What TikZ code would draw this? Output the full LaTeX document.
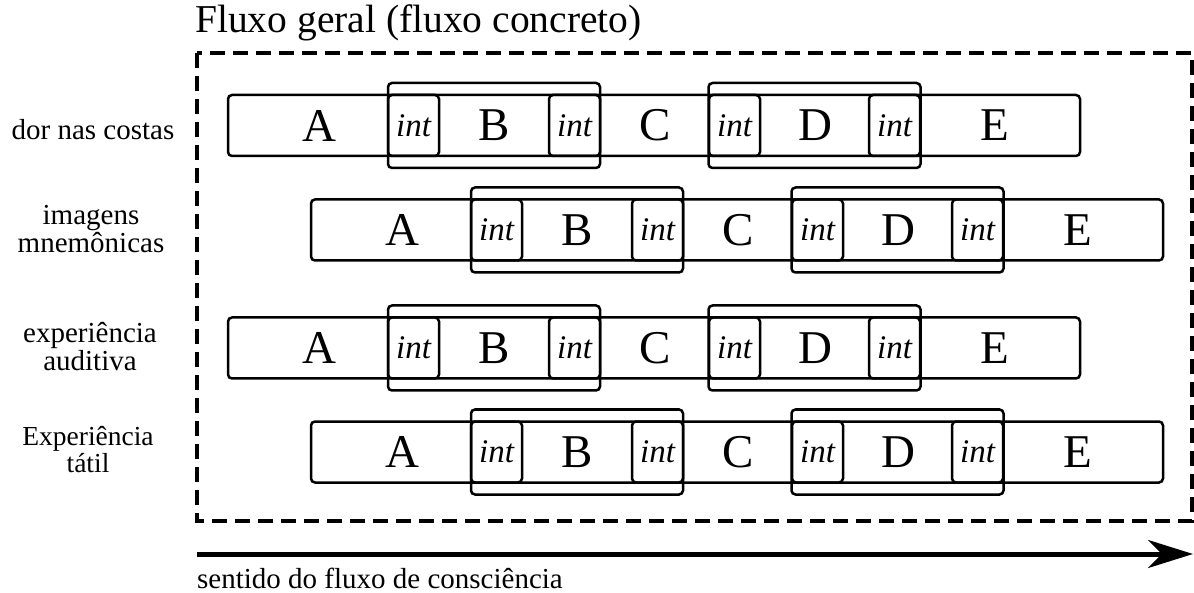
\documentclass[tikz,border=0pt]{standalone}
\usepackage{fontspec}
\setmainfont{Liberation Serif}
\usetikzlibrary{arrows.meta}

\begin{document}
\begin{tikzpicture}[x=1pt, y=-1pt,
  flowbox/.style={draw, line width=2.5pt, rounded corners=4pt, inner sep=0pt},
  longbox/.style={flowbox, minimum width=852pt, minimum height=61pt},
  tallbox/.style={flowbox, minimum width=212pt, minimum height=85pt},
  intbox/.style={flowbox, minimum width=51pt, minimum height=61pt, font=\fontsize{33}{33}\selectfont\itshape},
  letter/.style={font=\fontsize{47}{47}\selectfont},
  rowlabel/.style={align=center, inner sep=0pt, font=\fontsize{29}{28}\selectfont}]
\useasboundingbox (0,0) rectangle (1194,593);

\node[anchor=base west, inner sep=0pt, font=\fontsize{39.5}{39.5}\selectfont] (title) at (195,33) {Fluxo geral (fluxo concreto)};
\draw[line width=4pt, dash pattern=on 15pt off 8pt] (197,53) rectangle (1192,521);

% one row per experience, every second one shifted right
\foreach \r/\ry/\dx in {1/125.5/0, 2/230/83, 3/348/0, 4/452/83} {
  \node[longbox] (flow\r) at (654+\dx,\ry) {};
  \node[tallbox] (tallB\r) at (494+\dx,\ry) {};
  \node[tallbox] (tallD\r) at (814.5+\dx,\ry) {};
  \foreach \i/\ix in {1/413.5, 2/574.5, 3/734.5, 4/894.5}
    \node[intbox] (int\r\i) at (\ix+\dx,\ry) {int};
  \foreach \l/\lx in {A/319, B/494, C/655, D/815, E/995}
    \node[letter] (let\r\l) at (\lx+\dx,\ry) {\l};
}

\node[rowlabel] (pain) at (93,130) {dor nas costas};
\node[rowlabel] (images) at (91,229) {imagens\\mnemônicas};
\node[rowlabel] (hearing) at (90,347) {experiência\\auditiva};
\node[rowlabel, font=\fontsize{27.5}{26.5}\selectfont] (touch) at (88,449.5) {Experiência\\tátil};

\coordinate (flowstart) at (197,554);
\coordinate (flowend) at (1193,554);
\draw[line width=5pt, -{Stealth[length=45pt, width=28pt, inset=14pt]}] (flowstart) -- (flowend);
\node[anchor=base west, inner sep=0pt, font=\fontsize{29}{29}\selectfont] (direction) at (197,588) {sentido do fluxo de consciência};
\end{tikzpicture}
\end{document}
